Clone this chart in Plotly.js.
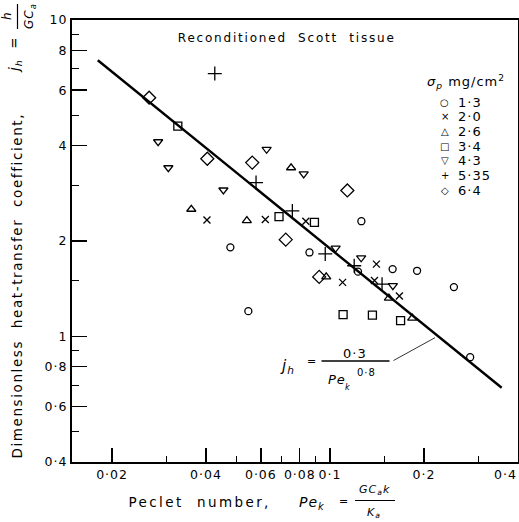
<!DOCTYPE html>
<html>
<head>
<meta charset="utf-8">
<script src="https://cdn.plot.ly/plotly-3.0.1.min.js"></script>
<style>
  html, body { margin: 0; padding: 0; background: #fff; }
  text { letter-spacing: 1px; }
  .annotation[data-index="0"] text { letter-spacing: 1.8px; }
  .annotation[data-index="1"] text { letter-spacing: 2.4px; }
  .annotation[data-index="2"] text { letter-spacing: 1.6px; }
</style>
</head>
<body>
<div id="chart" style="width:519px;height:522px;"></div>
<script>
// ---- data (Pe_k, j_h) ----
const sigmaLabels = ['1·3', '2·0', '2·6', '3·4', '4·3', '5·35', '6·4'];
const legendGlyphs = ['○', '×', '△', '□', '▽', '+', '◇'];

const pe_13 = [0.0479, 0.0547, 0.0859, 0.1260, 0.1229, 0.1587, 0.1901, 0.2495, 0.2813];
const jh_13 = [1.91, 1.20, 1.84, 2.31, 1.60, 1.63, 1.61, 1.43, 0.858];

const pe_20 = [0.0403, 0.0620, 0.0836, 0.1097, 0.1408, 0.1388, 0.1668];
const jh_20 = [2.33, 2.34, 2.31, 1.48, 1.69, 1.50, 1.34];

const pe_26 = [0.0359, 0.0541, 0.0750, 0.0972, 0.1544, 0.1834];
const jh_26 = [2.52, 2.32, 3.41, 1.54, 1.32, 1.14];

const pe_34 = [0.0325, 0.0686, 0.0891, 0.1101, 0.1367, 0.1683];
const jh_34 = [4.62, 2.39, 2.29, 1.17, 1.165, 1.12];

const pe_43 = [0.0281, 0.0303, 0.0455, 0.0626, 0.0823, 0.1042, 0.1258, 0.1590];
const jh_43 = [4.12, 3.41, 2.90, 3.90, 3.26, 1.90, 1.77, 1.445];

const pe_535 = [0.0427, 0.0579, 0.0757, 0.0965, 0.1195, 0.1468];
const jh_535 = [6.77, 3.06, 2.49, 1.82, 1.67, 1.46];

const pe_64 = [0.0263, 0.0404, 0.0563, 0.0721, 0.1136, 0.0923];
const jh_64 = [5.68, 3.64, 3.54, 2.02, 2.89, 1.54];

// fitted line j_h = 0.3 / Pe_k^0.8, end points as drawn
const fitPe = [0.018, 0.355];
const fitJh = [7.46, 0.687];

// ticks
const xTickVals = [0.02, 0.04, 0.06, 0.08, 0.1, 0.2, 0.4];
const xTickText = ['0·02', '0·04', '0·06', '0·08', '0·1', '0·2', '0·4'];
const xMinorVals = [0.03, 0.05, 0.07, 0.09, 0.15, 0.3];
const yTickVals = [0.4, 0.6, 0.8, 1, 2, 4, 6, 8, 10];
const yTickText = ['0·4', '0·6', '0·8', '1', '2', '4', '6', '8', '10'];
const yMinorVals = [0.5, 0.7, 0.9, 1.5, 3, 5, 7, 9];

// ---- drawing ----
const FONT = 'DejaVu Sans';
const L = 72, R = 518, T = 20, B = 462;
const px = x => (x - L) / (R - L);
const py = y => (B - y) / (B - T);
const nb = n => '\u00a0'.repeat(n);

const series = [
  {x: pe_13, y: jh_13, symbol: 'circle-open', size: 7},
  {x: pe_20, y: jh_20, symbol: 'x-thin-open', size: 7},
  {x: pe_26, y: jh_26, symbol: 'triangle-up-open', size: 8},
  {x: pe_34, y: jh_34, symbol: 'square-open', size: 8},
  {x: pe_43, y: jh_43, symbol: 'triangle-down-open', size: 8},
  {x: pe_535, y: jh_535, symbol: 'cross-thin-open', size: 10},
  {x: pe_64, y: jh_64, symbol: 'diamond-open', size: 10}
];

const traces = [{
  x: fitPe, y: fitJh, mode: 'lines', type: 'scatter',
  line: {color: 'black', width: 2.4}, showlegend: false, hoverinfo: 'skip'
}];
series.forEach((s, i) => traces.push({
  x: s.x, y: s.y, type: 'scatter', mode: 'markers', name: sigmaLabels[i],
  showlegend: false,
  marker: {symbol: s.symbol, size: s.size, color: 'black',
           line: {color: 'black', width: 1.3}}
}));

const ann = [];
const A = (x, y, text, opt) => ann.push(Object.assign({
  xref: 'paper', yref: 'paper', x: px(x), y: py(y), text: text, showarrow: false,
  font: {family: FONT, size: 12.5, color: 'black'}, xanchor: 'center', yanchor: 'middle'
}, opt || {}));

// 0: in-plot title
A(286, 38, 'Reconditioned' + nb(2) + 'Scott' + nb(2) + 'tissue', {font: {family: FONT, size: 12, color: 'black'}});
// 1: x-axis title
A(199, 502, 'Peclet' + nb(2) + 'number,', {font: {family: FONT, size: 13.5, color: 'black'}});
// 2: y-axis title (rotated)
A(17, 286, 'Dimensionless' + nb(2) + 'heat-transfer' + nb(2) + 'coefficient,', {textangle: -90, font: {family: FONT, size: 13.5, color: 'black'}});

// x-axis title formula  Pe_k = GC_a k / K_a
A(312, 503, '<i>Pe<sub>k</sub></i>', {font: {family: FONT, size: 14, color: 'black'}});
A(344, 502, '=', {font: {family: FONT, size: 11, color: 'black'}});
A(374, 490, '<i>GC<sub>a</sub>k</i>', {font: {family: FONT, size: 11, color: 'black'}});
A(374, 513, '<i>K<sub>a</sub></i>', {font: {family: FONT, size: 11, color: 'black'}});

// y-axis title formula  j_h = h / GC_a (rotated)
A(15, 54, '<i>j<sub>h</sub></i>' + nb(2) + '=', {textangle: -90, font: {family: FONT, size: 13.5, color: 'black'}});
A(7, 16, '<i>h</i>', {textangle: -90, font: {family: FONT, size: 12, color: 'black'}});
A(30, 16, '<i>GC<sub>a</sub></i>', {textangle: -90, font: {family: FONT, size: 12, color: 'black'}});

// legend
A(466, 82, '<i>σ<sub>p</sub></i>' + nb(1) + 'mg/cm<sup>2</sup>', {font: {family: FONT, size: 13, color: 'black'}});
sigmaLabels.forEach((lab, i) => {
  const yy = 102 + 14.7 * i;
  A(445, yy, legendGlyphs[i], {font: {family: FONT, size: 10, color: 'black'}});
  A(456, yy, lab, {xanchor: 'left', font: {family: FONT, size: 13, color: 'black'}});
});

// equation j_h = 0.3 / Pe_k^0.8
A(287, 366, '<i>j<sub>h</sub></i>', {font: {family: FONT, size: 15, color: 'black'}});
A(311.5, 361.5, '=', {font: {family: FONT, size: 11, color: 'black'}});
A(355, 353, '0·3', {font: {family: FONT, size: 13, color: 'black'}});
A(337, 379, '<i>Pe</i>', {font: {family: FONT, size: 13, color: 'black'}});
A(348, 387, '<i>k</i>', {font: {family: FONT, size: 8, color: 'black'}});
A(366, 372, '0·8', {font: {family: FONT, size: 10, color: 'black'}});

const shapes = [
  {type: 'line', xref: 'paper', yref: 'paper', x0: px(321.5), x1: px(389.5), y0: py(361), y1: py(361), line: {color: 'black', width: 1.5}},
  {type: 'line', xref: 'paper', yref: 'paper', x0: px(393.5), x1: px(435), y0: py(360.5), y1: py(337.7), line: {color: 'black', width: 0.8}},
  {type: 'line', xref: 'paper', yref: 'paper', x0: px(355), x1: px(395), y0: py(500.5), y1: py(500.5), line: {color: 'black', width: 1.2}},
  {type: 'line', xref: 'paper', yref: 'paper', x0: px(17.5), x1: px(17.5), y0: py(4), y1: py(29), line: {color: 'black', width: 1.2}}
];

// last x label sits at the right border: pad it so its visible part stays inside
const xTickLabels = xTickText.map((t, i) => i === xTickText.length - 1 ? t + nb(5) + '\u200b' : t);

const layout = {
  width: 519, height: 522,
  margin: {l: L, r: 519 - R, t: T, b: 522 - B},
  paper_bgcolor: 'white', plot_bgcolor: 'white',
  showlegend: false,
  font: {family: FONT, size: 12.5, color: 'black'},
  xaxis: {
    type: 'log', range: [Math.log10(0.01488), Math.log10(0.4) + 0.0005],
    tickmode: 'array', tickvals: xTickVals, ticktext: xTickLabels,
    ticklabeloverflow: 'allow',
    ticks: 'inside', ticklen: 14, tickwidth: 1.3, tickcolor: 'black',
    minor: {tickmode: 'array', tickvals: xMinorVals, ticks: 'inside', ticklen: 6, tickwidth: 1, tickcolor: 'black', showgrid: false},
    showgrid: false, zeroline: false,
    showline: true, linecolor: 'black', linewidth: 2, mirror: true,
    tickfont: {family: FONT, size: 12.5, color: 'black'}
  },
  yaxis: {
    type: 'log', range: [Math.log10(0.4), 1],
    tickmode: 'array', tickvals: yTickVals, ticktext: yTickText,
    ticklabeloverflow: 'allow',
    ticks: 'inside', ticklen: 15, tickwidth: 1.3, tickcolor: 'black',
    minor: {tickmode: 'array', tickvals: yMinorVals, ticks: 'inside', ticklen: 7, tickwidth: 1, tickcolor: 'black', showgrid: false},
    showgrid: false, zeroline: false,
    showline: true, linecolor: 'black', linewidth: 2, mirror: true,
    tickfont: {family: FONT, size: 12.5, color: 'black'}
  },
  annotations: ann,
  shapes: shapes
};

Plotly.newPlot('chart', traces, layout, {displayModeBar: false, staticPlot: true});
</script>
</body>
</html>
